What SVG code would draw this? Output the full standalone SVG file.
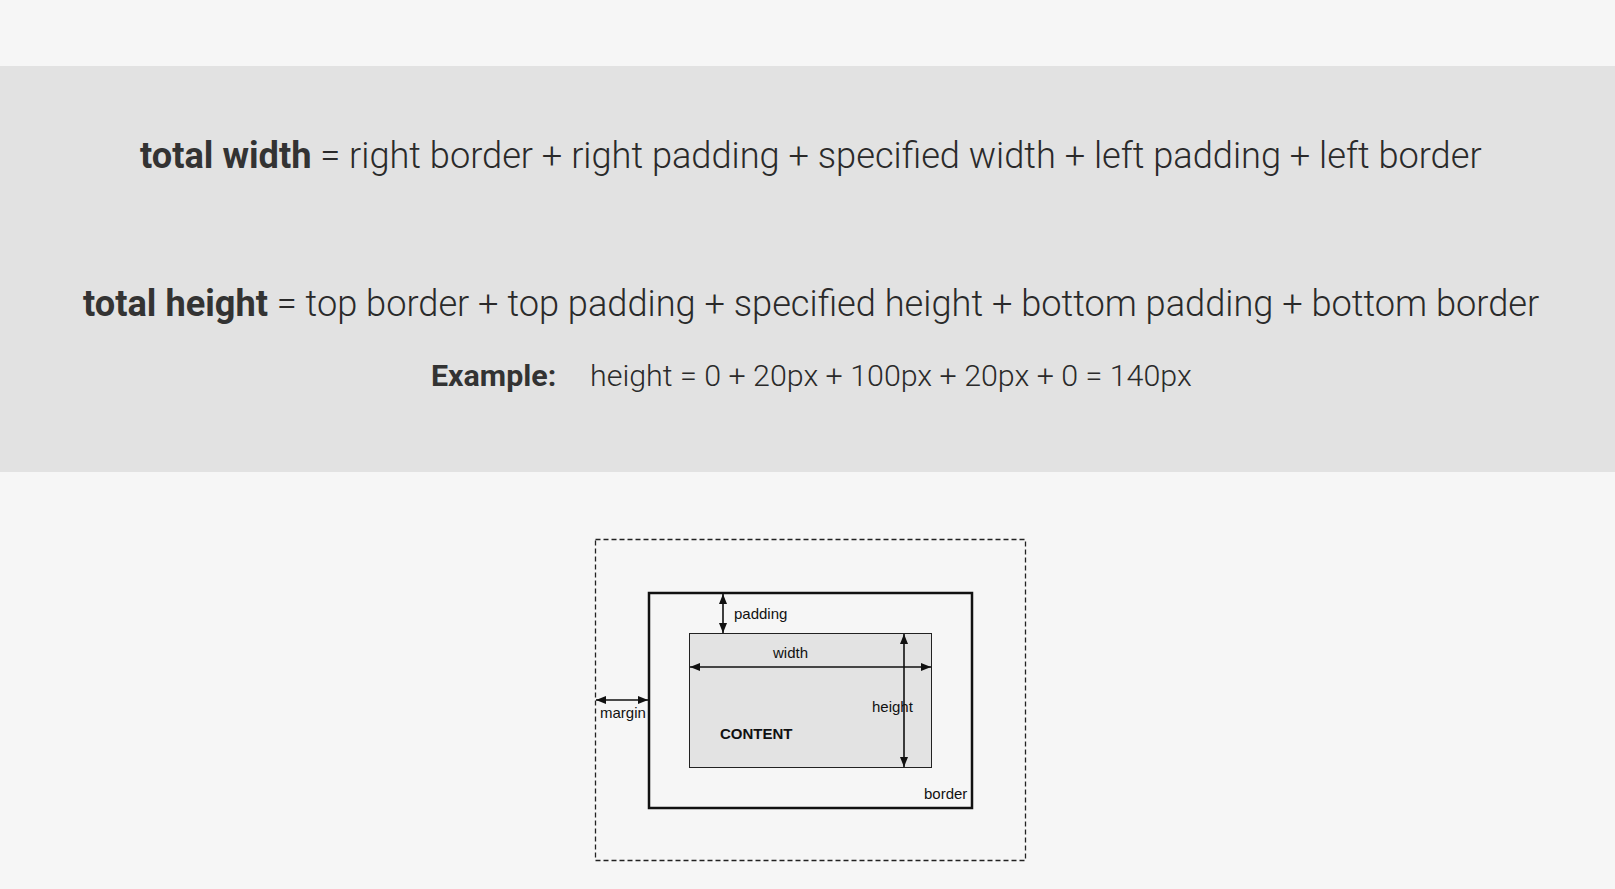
<svg xmlns="http://www.w3.org/2000/svg" width="1615" height="889" viewBox="0 0 1615 889">
<style>
.big{font-family:Roboto,"Liberation Sans",sans-serif;font-size:36.2px;font-weight:300;fill:#2a2a2a}
.ex{font-family:Roboto,"Liberation Sans",sans-serif;font-size:30.4px;font-weight:300;fill:#2a2a2a}
.b{font-weight:700;fill:#333}
.lbl{font-family:"Liberation Sans",Arial,sans-serif;font-size:15px;fill:#111}
.arr{stroke:#111;stroke-width:1.6;fill:none;marker-start:url(#ah);marker-end:url(#ah)}
</style>
<defs>
<marker id="ah" viewBox="0 0 10 10" refX="10" refY="5" markerWidth="10" markerHeight="8" markerUnits="userSpaceOnUse" orient="auto-start-reverse" preserveAspectRatio="none">
<path d="M0,0 L10,5 L0,10 z" fill="#111"/>
</marker>
</defs>
<rect x="0" y="0" width="1615" height="889" fill="#f6f6f6"/>
<rect x="0" y="66" width="1615" height="406" fill="#e2e2e2"/>
<g id="formula-width">
<text class="big" x="140" y="168"><tspan class="b">total width</tspan> = right border + right padding + specified width + left padding + left border</text>
</g>
<g id="formula-height">
<text class="big" x="83" y="316"><tspan class="b">total height</tspan> = top border + top padding + specified height + bottom padding + bottom border</text>
</g>
<g id="example">
<text class="ex b" x="431" y="386">Example:</text>
<text class="ex" x="590" y="386">height = 0 + 20px + 100px + 20px + 0 = 140px</text>
</g>
<g id="margin-box">
<rect x="595.5" y="539.5" width="430" height="321" fill="none" stroke="#222" stroke-width="1.3" stroke-dasharray="5,3"/>
</g>
<g id="border-box">
<rect x="649" y="593" width="323" height="215" fill="none" stroke="#111" stroke-width="2.5"/>
<text class="lbl" x="924" y="799">border</text>
</g>
<g id="content-box">
<rect x="689.5" y="633.5" width="242" height="134" fill="#e3e3e3" stroke="#222" stroke-width="1"/>
<text class="lbl" x="720" y="739" font-weight="bold">CONTENT</text>
</g>
<g id="connectors">
<line class="arr" x1="723" y1="594" x2="723" y2="633"/>
<line class="arr" x1="690" y1="667" x2="931" y2="667"/>
<line class="arr" x1="904" y1="634" x2="904" y2="767"/>
<line class="arr" x1="596" y1="700" x2="648" y2="700"/>
</g>
<g id="labels">
<text class="lbl" x="734" y="619">padding</text>
<text class="lbl" x="773" y="658">width</text>
<text class="lbl" x="872" y="712">height</text>
<text class="lbl" x="600" y="718" font-size="14.6">margin</text>
</g>
</svg>
